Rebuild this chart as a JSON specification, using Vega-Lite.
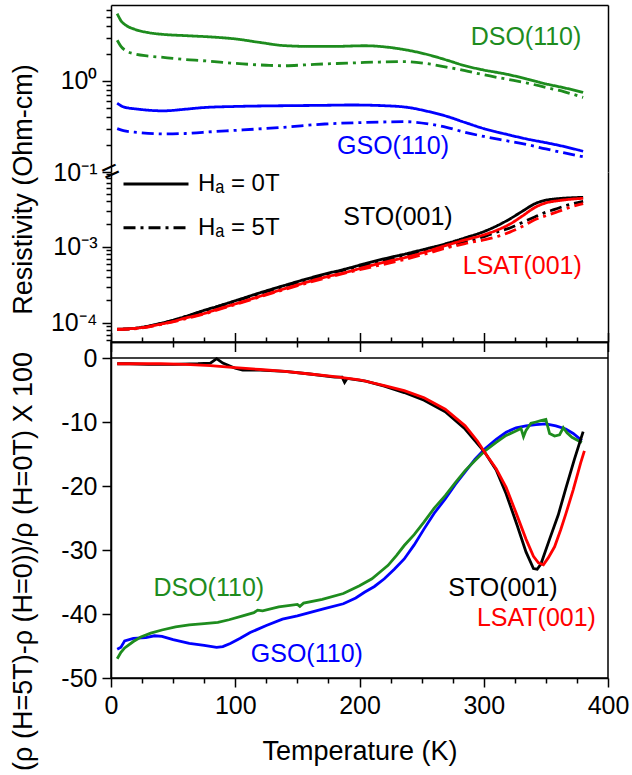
{
  "$schema": "https://vega.github.io/schema/vega-lite/v6.json",
  "padding": {"left": 8, "top": 5, "right": 0, "bottom": 0},
  "bounds": "flush",
  "spacing": 0,
  "config": {
    "font": "Liberation Sans",
    "view": {"stroke": null},
    "axis": {"grid": false, "domainColor": "#000", "domainWidth": 1.5, "tickColor": "#000", "tickWidth": 1.5, "labelColor": "#000", "titleColor": "#000", "labelFontSize": 25, "titleFontSize": 27, "titleFontWeight": "normal", "labelFlush": false, "labelOverlap": false, "labelBound": false}
  },
  "resolve": {
    "scale": {"x": "independent", "y": "independent", "color": "independent", "strokeDash": "independent"},
    "axis": {"x": "independent", "y": "independent"},
    "legend": {"color": "independent", "strokeDash": "independent"}
  },
  "datasets": {
    "rho": [
      {"s": "GSO(110)", "H": "0T", "T": 5, "rho": 0.57}, {"s": "GSO(110)", "H": "0T", "T": 10, "rho": 0.52}, {"s": "GSO(110)", "H": "0T", "T": 22, "rho": 0.49}, {"s": "GSO(110)", "H": "0T", "T": 42, "rho": 0.47}, {"s": "GSO(110)", "H": "0T", "T": 60, "rho": 0.49}, {"s": "GSO(110)", "H": "0T", "T": 74, "rho": 0.51}, {"s": "GSO(110)", "H": "0T", "T": 100, "rho": 0.525}, {"s": "GSO(110)", "H": "0T", "T": 139, "rho": 0.535}, {"s": "GSO(110)", "H": "0T", "T": 170, "rho": 0.54}, {"s": "GSO(110)", "H": "0T", "T": 194, "rho": 0.545}, {"s": "GSO(110)", "H": "0T", "T": 220, "rho": 0.535}, {"s": "GSO(110)", "H": "0T", "T": 240, "rho": 0.51}, {"s": "GSO(110)", "H": "0T", "T": 253, "rho": 0.47}, {"s": "GSO(110)", "H": "0T", "T": 270, "rho": 0.41}, {"s": "GSO(110)", "H": "0T", "T": 285, "rho": 0.35}, {"s": "GSO(110)", "H": "0T", "T": 300, "rho": 0.3}, {"s": "GSO(110)", "H": "0T", "T": 318, "rho": 0.26}, {"s": "GSO(110)", "H": "0T", "T": 335, "rho": 0.23}, {"s": "GSO(110)", "H": "0T", "T": 350, "rho": 0.21}, {"s": "GSO(110)", "H": "0T", "T": 365, "rho": 0.19}, {"s": "GSO(110)", "H": "0T", "T": 380, "rho": 0.169},
      {"s": "GSO(110)", "H": "5T", "T": 5, "rho": 0.3}, {"s": "GSO(110)", "H": "5T", "T": 10, "rho": 0.285}, {"s": "GSO(110)", "H": "5T", "T": 22, "rho": 0.272}, {"s": "GSO(110)", "H": "5T", "T": 42, "rho": 0.262}, {"s": "GSO(110)", "H": "5T", "T": 60, "rho": 0.265}, {"s": "GSO(110)", "H": "5T", "T": 74, "rho": 0.273}, {"s": "GSO(110)", "H": "5T", "T": 106, "rho": 0.29}, {"s": "GSO(110)", "H": "5T", "T": 139, "rho": 0.31}, {"s": "GSO(110)", "H": "5T", "T": 172, "rho": 0.337}, {"s": "GSO(110)", "H": "5T", "T": 204, "rho": 0.35}, {"s": "GSO(110)", "H": "5T", "T": 237, "rho": 0.357}, {"s": "GSO(110)", "H": "5T", "T": 256, "rho": 0.337}, {"s": "GSO(110)", "H": "5T", "T": 270, "rho": 0.31}, {"s": "GSO(110)", "H": "5T", "T": 285, "rho": 0.273}, {"s": "GSO(110)", "H": "5T", "T": 300, "rho": 0.246}, {"s": "GSO(110)", "H": "5T", "T": 318, "rho": 0.221}, {"s": "GSO(110)", "H": "5T", "T": 335, "rho": 0.2}, {"s": "GSO(110)", "H": "5T", "T": 350, "rho": 0.179}, {"s": "GSO(110)", "H": "5T", "T": 365, "rho": 0.162}, {"s": "GSO(110)", "H": "5T", "T": 380, "rho": 0.147},
      {"s": "DSO(110)", "H": "0T", "T": 5, "rho": 5.5}, {"s": "DSO(110)", "H": "0T", "T": 8, "rho": 4.6}, {"s": "DSO(110)", "H": "0T", "T": 12, "rho": 4.1}, {"s": "DSO(110)", "H": "0T", "T": 19, "rho": 3.7}, {"s": "DSO(110)", "H": "0T", "T": 30, "rho": 3.4}, {"s": "DSO(110)", "H": "0T", "T": 42, "rho": 3.25}, {"s": "DSO(110)", "H": "0T", "T": 60, "rho": 3.15}, {"s": "DSO(110)", "H": "0T", "T": 80, "rho": 3.05}, {"s": "DSO(110)", "H": "0T", "T": 100, "rho": 2.9}, {"s": "DSO(110)", "H": "0T", "T": 120, "rho": 2.65}, {"s": "DSO(110)", "H": "0T", "T": 139, "rho": 2.45}, {"s": "DSO(110)", "H": "0T", "T": 160, "rho": 2.4}, {"s": "DSO(110)", "H": "0T", "T": 180, "rho": 2.4}, {"s": "DSO(110)", "H": "0T", "T": 204, "rho": 2.44}, {"s": "DSO(110)", "H": "0T", "T": 224, "rho": 2.34}, {"s": "DSO(110)", "H": "0T", "T": 237, "rho": 2.2}, {"s": "DSO(110)", "H": "0T", "T": 253, "rho": 1.98}, {"s": "DSO(110)", "H": "0T", "T": 270, "rho": 1.7}, {"s": "DSO(110)", "H": "0T", "T": 285, "rho": 1.47}, {"s": "DSO(110)", "H": "0T", "T": 300, "rho": 1.32}, {"s": "DSO(110)", "H": "0T", "T": 318, "rho": 1.19}, {"s": "DSO(110)", "H": "0T", "T": 335, "rho": 1.05}, {"s": "DSO(110)", "H": "0T", "T": 350, "rho": 0.93}, {"s": "DSO(110)", "H": "0T", "T": 365, "rho": 0.84}, {"s": "DSO(110)", "H": "0T", "T": 380, "rho": 0.75},
      {"s": "DSO(110)", "H": "5T", "T": 5, "rho": 2.8}, {"s": "DSO(110)", "H": "5T", "T": 8, "rho": 2.4}, {"s": "DSO(110)", "H": "5T", "T": 12, "rho": 2.15}, {"s": "DSO(110)", "H": "5T", "T": 19, "rho": 1.98}, {"s": "DSO(110)", "H": "5T", "T": 30, "rho": 1.88}, {"s": "DSO(110)", "H": "5T", "T": 42, "rho": 1.82}, {"s": "DSO(110)", "H": "5T", "T": 60, "rho": 1.72}, {"s": "DSO(110)", "H": "5T", "T": 74, "rho": 1.67}, {"s": "DSO(110)", "H": "5T", "T": 90, "rho": 1.6}, {"s": "DSO(110)", "H": "5T", "T": 106, "rho": 1.54}, {"s": "DSO(110)", "H": "5T", "T": 125, "rho": 1.49}, {"s": "DSO(110)", "H": "5T", "T": 139, "rho": 1.47}, {"s": "DSO(110)", "H": "5T", "T": 155, "rho": 1.5}, {"s": "DSO(110)", "H": "5T", "T": 172, "rho": 1.54}, {"s": "DSO(110)", "H": "5T", "T": 190, "rho": 1.57}, {"s": "DSO(110)", "H": "5T", "T": 204, "rho": 1.6}, {"s": "DSO(110)", "H": "5T", "T": 220, "rho": 1.62}, {"s": "DSO(110)", "H": "5T", "T": 237, "rho": 1.63}, {"s": "DSO(110)", "H": "5T", "T": 256, "rho": 1.54}, {"s": "DSO(110)", "H": "5T", "T": 270, "rho": 1.42}, {"s": "DSO(110)", "H": "5T", "T": 285, "rho": 1.3}, {"s": "DSO(110)", "H": "5T", "T": 300, "rho": 1.17}, {"s": "DSO(110)", "H": "5T", "T": 318, "rho": 1.05}, {"s": "DSO(110)", "H": "5T", "T": 335, "rho": 0.95}, {"s": "DSO(110)", "H": "5T", "T": 350, "rho": 0.85}, {"s": "DSO(110)", "H": "5T", "T": 365, "rho": 0.76}, {"s": "DSO(110)", "H": "5T", "T": 380, "rho": 0.66},
      {"s": "STO(001)", "H": "0T", "T": 5, "rho": 0.000083}, {"s": "STO(001)", "H": "0T", "T": 15, "rho": 0.000084}, {"s": "STO(001)", "H": "0T", "T": 25, "rho": 0.000088}, {"s": "STO(001)", "H": "0T", "T": 35, "rho": 0.000095}, {"s": "STO(001)", "H": "0T", "T": 48, "rho": 0.000107}, {"s": "STO(001)", "H": "0T", "T": 60, "rho": 0.000122}, {"s": "STO(001)", "H": "0T", "T": 74, "rho": 0.000145}, {"s": "STO(001)", "H": "0T", "T": 87, "rho": 0.000168}, {"s": "STO(001)", "H": "0T", "T": 100, "rho": 0.000196}, {"s": "STO(001)", "H": "0T", "T": 120, "rho": 0.00025}, {"s": "STO(001)", "H": "0T", "T": 139, "rho": 0.00031}, {"s": "STO(001)", "H": "0T", "T": 155, "rho": 0.00037}, {"s": "STO(001)", "H": "0T", "T": 172, "rho": 0.00044}, {"s": "STO(001)", "H": "0T", "T": 188, "rho": 0.00051}, {"s": "STO(001)", "H": "0T", "T": 204, "rho": 0.0006}, {"s": "STO(001)", "H": "0T", "T": 220, "rho": 0.0007}, {"s": "STO(001)", "H": "0T", "T": 237, "rho": 0.00081}, {"s": "STO(001)", "H": "0T", "T": 253, "rho": 0.00094}, {"s": "STO(001)", "H": "0T", "T": 269, "rho": 0.0011}, {"s": "STO(001)", "H": "0T", "T": 285, "rho": 0.00132}, {"s": "STO(001)", "H": "0T", "T": 302, "rho": 0.00164}, {"s": "STO(001)", "H": "0T", "T": 312, "rho": 0.00195}, {"s": "STO(001)", "H": "0T", "T": 321, "rho": 0.00234}, {"s": "STO(001)", "H": "0T", "T": 331, "rho": 0.00295}, {"s": "STO(001)", "H": "0T", "T": 341, "rho": 0.0037}, {"s": "STO(001)", "H": "0T", "T": 349, "rho": 0.0041}, {"s": "STO(001)", "H": "0T", "T": 357, "rho": 0.00428}, {"s": "STO(001)", "H": "0T", "T": 368, "rho": 0.00442}, {"s": "STO(001)", "H": "0T", "T": 380, "rho": 0.0045},
      {"s": "STO(001)", "H": "5T", "T": 5, "rho": 0.000082}, {"s": "STO(001)", "H": "5T", "T": 25, "rho": 0.000087}, {"s": "STO(001)", "H": "5T", "T": 48, "rho": 0.000106}, {"s": "STO(001)", "H": "5T", "T": 74, "rho": 0.000143}, {"s": "STO(001)", "H": "5T", "T": 100, "rho": 0.000193}, {"s": "STO(001)", "H": "5T", "T": 139, "rho": 0.000303}, {"s": "STO(001)", "H": "5T", "T": 172, "rho": 0.000428}, {"s": "STO(001)", "H": "5T", "T": 204, "rho": 0.000578}, {"s": "STO(001)", "H": "5T", "T": 237, "rho": 0.000765}, {"s": "STO(001)", "H": "5T", "T": 253, "rho": 0.00088}, {"s": "STO(001)", "H": "5T", "T": 269, "rho": 0.001}, {"s": "STO(001)", "H": "5T", "T": 285, "rho": 0.00117}, {"s": "STO(001)", "H": "5T", "T": 302, "rho": 0.0014}, {"s": "STO(001)", "H": "5T", "T": 312, "rho": 0.0016}, {"s": "STO(001)", "H": "5T", "T": 321, "rho": 0.00178}, {"s": "STO(001)", "H": "5T", "T": 331, "rho": 0.0021}, {"s": "STO(001)", "H": "5T", "T": 341, "rho": 0.00248}, {"s": "STO(001)", "H": "5T", "T": 349, "rho": 0.00283}, {"s": "STO(001)", "H": "5T", "T": 357, "rho": 0.00312}, {"s": "STO(001)", "H": "5T", "T": 368, "rho": 0.00358}, {"s": "STO(001)", "H": "5T", "T": 380, "rho": 0.00398},
      {"s": "LSAT(001)", "H": "0T", "T": 5, "rho": 0.000083}, {"s": "LSAT(001)", "H": "0T", "T": 15, "rho": 0.000084}, {"s": "LSAT(001)", "H": "0T", "T": 25, "rho": 0.000087}, {"s": "LSAT(001)", "H": "0T", "T": 35, "rho": 0.000093}, {"s": "LSAT(001)", "H": "0T", "T": 48, "rho": 0.000103}, {"s": "LSAT(001)", "H": "0T", "T": 60, "rho": 0.000116}, {"s": "LSAT(001)", "H": "0T", "T": 74, "rho": 0.000132}, {"s": "LSAT(001)", "H": "0T", "T": 87, "rho": 0.000154}, {"s": "LSAT(001)", "H": "0T", "T": 100, "rho": 0.000178}, {"s": "LSAT(001)", "H": "0T", "T": 120, "rho": 0.000225}, {"s": "LSAT(001)", "H": "0T", "T": 139, "rho": 0.00028}, {"s": "LSAT(001)", "H": "0T", "T": 155, "rho": 0.000335}, {"s": "LSAT(001)", "H": "0T", "T": 172, "rho": 0.0004}, {"s": "LSAT(001)", "H": "0T", "T": 188, "rho": 0.00046}, {"s": "LSAT(001)", "H": "0T", "T": 204, "rho": 0.00054}, {"s": "LSAT(001)", "H": "0T", "T": 220, "rho": 0.00063}, {"s": "LSAT(001)", "H": "0T", "T": 237, "rho": 0.00073}, {"s": "LSAT(001)", "H": "0T", "T": 253, "rho": 0.00086}, {"s": "LSAT(001)", "H": "0T", "T": 269, "rho": 0.00104}, {"s": "LSAT(001)", "H": "0T", "T": 285, "rho": 0.00124}, {"s": "LSAT(001)", "H": "0T", "T": 302, "rho": 0.00148}, {"s": "LSAT(001)", "H": "0T", "T": 312, "rho": 0.0017}, {"s": "LSAT(001)", "H": "0T", "T": 321, "rho": 0.002}, {"s": "LSAT(001)", "H": "0T", "T": 331, "rho": 0.00255}, {"s": "LSAT(001)", "H": "0T", "T": 341, "rho": 0.0033}, {"s": "LSAT(001)", "H": "0T", "T": 350, "rho": 0.0038}, {"s": "LSAT(001)", "H": "0T", "T": 360, "rho": 0.00407}, {"s": "LSAT(001)", "H": "0T", "T": 370, "rho": 0.00425}, {"s": "LSAT(001)", "H": "0T", "T": 380, "rho": 0.00437},
      {"s": "LSAT(001)", "H": "5T", "T": 5, "rho": 0.000082}, {"s": "LSAT(001)", "H": "5T", "T": 25, "rho": 0.000086}, {"s": "LSAT(001)", "H": "5T", "T": 48, "rho": 0.000102}, {"s": "LSAT(001)", "H": "5T", "T": 74, "rho": 0.00013}, {"s": "LSAT(001)", "H": "5T", "T": 100, "rho": 0.000175}, {"s": "LSAT(001)", "H": "5T", "T": 139, "rho": 0.000274}, {"s": "LSAT(001)", "H": "5T", "T": 172, "rho": 0.000388}, {"s": "LSAT(001)", "H": "5T", "T": 204, "rho": 0.00052}, {"s": "LSAT(001)", "H": "5T", "T": 237, "rho": 0.00069}, {"s": "LSAT(001)", "H": "5T", "T": 253, "rho": 0.00081}, {"s": "LSAT(001)", "H": "5T", "T": 269, "rho": 0.00096}, {"s": "LSAT(001)", "H": "5T", "T": 285, "rho": 0.00111}, {"s": "LSAT(001)", "H": "5T", "T": 302, "rho": 0.00126}, {"s": "LSAT(001)", "H": "5T", "T": 312, "rho": 0.00139}, {"s": "LSAT(001)", "H": "5T", "T": 321, "rho": 0.00157}, {"s": "LSAT(001)", "H": "5T", "T": 331, "rho": 0.00186}, {"s": "LSAT(001)", "H": "5T", "T": 341, "rho": 0.00228}, {"s": "LSAT(001)", "H": "5T", "T": 350, "rho": 0.00258}, {"s": "LSAT(001)", "H": "5T", "T": 360, "rho": 0.00293}, {"s": "LSAT(001)", "H": "5T", "T": 370, "rho": 0.00336}, {"s": "LSAT(001)", "H": "5T", "T": 380, "rho": 0.00371}
    ],
    "mr": [
      {"s": "GSO(110)", "T": 5, "mr": -45.5}, {"s": "GSO(110)", "T": 8, "mr": -45.2}, {"s": "GSO(110)", "T": 11, "mr": -44.2}, {"s": "GSO(110)", "T": 18, "mr": -43.8}, {"s": "GSO(110)", "T": 28, "mr": -43.7}, {"s": "GSO(110)", "T": 35, "mr": -43.4}, {"s": "GSO(110)", "T": 41, "mr": -43.5}, {"s": "GSO(110)", "T": 50, "mr": -44.0}, {"s": "GSO(110)", "T": 63, "mr": -44.6}, {"s": "GSO(110)", "T": 75, "mr": -44.9}, {"s": "GSO(110)", "T": 85, "mr": -45.2}, {"s": "GSO(110)", "T": 90, "mr": -45.1}, {"s": "GSO(110)", "T": 96, "mr": -44.6}, {"s": "GSO(110)", "T": 104, "mr": -43.8}, {"s": "GSO(110)", "T": 112, "mr": -42.9}, {"s": "GSO(110)", "T": 125, "mr": -41.8}, {"s": "GSO(110)", "T": 138, "mr": -40.8}, {"s": "GSO(110)", "T": 150, "mr": -40.3}, {"s": "GSO(110)", "T": 171, "mr": -39.2}, {"s": "GSO(110)", "T": 187, "mr": -38.4}, {"s": "GSO(110)", "T": 197, "mr": -37.5}, {"s": "GSO(110)", "T": 204, "mr": -36.6}, {"s": "GSO(110)", "T": 212, "mr": -35.7}, {"s": "GSO(110)", "T": 220, "mr": -34.5}, {"s": "GSO(110)", "T": 228, "mr": -33.0}, {"s": "GSO(110)", "T": 236, "mr": -31.4}, {"s": "GSO(110)", "T": 244, "mr": -29.2}, {"s": "GSO(110)", "T": 252, "mr": -26.7}, {"s": "GSO(110)", "T": 260, "mr": -24.3}, {"s": "GSO(110)", "T": 269, "mr": -22.0}, {"s": "GSO(110)", "T": 277, "mr": -19.8}, {"s": "GSO(110)", "T": 285, "mr": -17.8}, {"s": "GSO(110)", "T": 293, "mr": -15.8}, {"s": "GSO(110)", "T": 301, "mr": -14.2}, {"s": "GSO(110)", "T": 310, "mr": -12.7}, {"s": "GSO(110)", "T": 318, "mr": -11.6}, {"s": "GSO(110)", "T": 326, "mr": -10.9}, {"s": "GSO(110)", "T": 334, "mr": -10.6}, {"s": "GSO(110)", "T": 342, "mr": -10.4}, {"s": "GSO(110)", "T": 350, "mr": -10.3}, {"s": "GSO(110)", "T": 358, "mr": -10.6}, {"s": "GSO(110)", "T": 366, "mr": -11.1}, {"s": "GSO(110)", "T": 372, "mr": -11.8}, {"s": "GSO(110)", "T": 379, "mr": -12.9},
      {"s": "DSO(110)", "T": 5, "mr": -47.0}, {"s": "DSO(110)", "T": 8, "mr": -46.0}, {"s": "DSO(110)", "T": 11, "mr": -45.3}, {"s": "DSO(110)", "T": 18, "mr": -44.3}, {"s": "DSO(110)", "T": 24, "mr": -43.6}, {"s": "DSO(110)", "T": 32, "mr": -43.0}, {"s": "DSO(110)", "T": 41, "mr": -42.5}, {"s": "DSO(110)", "T": 52, "mr": -42.0}, {"s": "DSO(110)", "T": 63, "mr": -41.7}, {"s": "DSO(110)", "T": 75, "mr": -41.5}, {"s": "DSO(110)", "T": 86, "mr": -41.3}, {"s": "DSO(110)", "T": 95, "mr": -40.9}, {"s": "DSO(110)", "T": 106, "mr": -40.3}, {"s": "DSO(110)", "T": 115, "mr": -39.8}, {"s": "DSO(110)", "T": 118, "mr": -39.4}, {"s": "DSO(110)", "T": 122, "mr": -39.5}, {"s": "DSO(110)", "T": 135, "mr": -38.9}, {"s": "DSO(110)", "T": 150, "mr": -38.5}, {"s": "DSO(110)", "T": 152, "mr": -38.8}, {"s": "DSO(110)", "T": 155, "mr": -38.3}, {"s": "DSO(110)", "T": 170, "mr": -37.7}, {"s": "DSO(110)", "T": 187, "mr": -36.8}, {"s": "DSO(110)", "T": 200, "mr": -35.6}, {"s": "DSO(110)", "T": 210, "mr": -34.5}, {"s": "DSO(110)", "T": 218, "mr": -33.2}, {"s": "DSO(110)", "T": 223, "mr": -32.4}, {"s": "DSO(110)", "T": 230, "mr": -30.8}, {"s": "DSO(110)", "T": 236, "mr": -29.3}, {"s": "DSO(110)", "T": 244, "mr": -27.6}, {"s": "DSO(110)", "T": 252, "mr": -25.6}, {"s": "DSO(110)", "T": 260, "mr": -23.5}, {"s": "DSO(110)", "T": 269, "mr": -21.5}, {"s": "DSO(110)", "T": 277, "mr": -19.5}, {"s": "DSO(110)", "T": 285, "mr": -17.6}, {"s": "DSO(110)", "T": 293, "mr": -16.0}, {"s": "DSO(110)", "T": 301, "mr": -14.5}, {"s": "DSO(110)", "T": 310, "mr": -13.2}, {"s": "DSO(110)", "T": 318, "mr": -12.1}, {"s": "DSO(110)", "T": 325, "mr": -11.5}, {"s": "DSO(110)", "T": 330, "mr": -11.0}, {"s": "DSO(110)", "T": 332, "mr": -12.3}, {"s": "DSO(110)", "T": 334, "mr": -11.3}, {"s": "DSO(110)", "T": 338, "mr": -10.2}, {"s": "DSO(110)", "T": 342, "mr": -10.0}, {"s": "DSO(110)", "T": 346, "mr": -9.8}, {"s": "DSO(110)", "T": 350, "mr": -9.6}, {"s": "DSO(110)", "T": 353, "mr": -11.8}, {"s": "DSO(110)", "T": 357, "mr": -12.2}, {"s": "DSO(110)", "T": 361, "mr": -12.0}, {"s": "DSO(110)", "T": 364, "mr": -10.9}, {"s": "DSO(110)", "T": 367, "mr": -11.7}, {"s": "DSO(110)", "T": 371, "mr": -12.4}, {"s": "DSO(110)", "T": 375, "mr": -12.8}, {"s": "DSO(110)", "T": 379, "mr": -13.2},
      {"s": "STO(001)", "T": 5, "mr": -0.9}, {"s": "STO(001)", "T": 15, "mr": -0.9}, {"s": "STO(001)", "T": 30, "mr": -1.0}, {"s": "STO(001)", "T": 50, "mr": -1.0}, {"s": "STO(001)", "T": 70, "mr": -0.9}, {"s": "STO(001)", "T": 80, "mr": -0.8}, {"s": "STO(001)", "T": 85, "mr": -0.1}, {"s": "STO(001)", "T": 90, "mr": -0.8}, {"s": "STO(001)", "T": 100, "mr": -1.6}, {"s": "STO(001)", "T": 106, "mr": -1.9}, {"s": "STO(001)", "T": 120, "mr": -1.9}, {"s": "STO(001)", "T": 140, "mr": -2.1}, {"s": "STO(001)", "T": 160, "mr": -2.5}, {"s": "STO(001)", "T": 180, "mr": -3.0}, {"s": "STO(001)", "T": 186, "mr": -3.0}, {"s": "STO(001)", "T": 188, "mr": -3.8}, {"s": "STO(001)", "T": 190, "mr": -3.2}, {"s": "STO(001)", "T": 205, "mr": -3.6}, {"s": "STO(001)", "T": 220, "mr": -4.4}, {"s": "STO(001)", "T": 236, "mr": -5.4}, {"s": "STO(001)", "T": 252, "mr": -6.6}, {"s": "STO(001)", "T": 269, "mr": -8.4}, {"s": "STO(001)", "T": 285, "mr": -11.1}, {"s": "STO(001)", "T": 301, "mr": -14.8}, {"s": "STO(001)", "T": 310, "mr": -17.5}, {"s": "STO(001)", "T": 318, "mr": -21.2}, {"s": "STO(001)", "T": 327, "mr": -26.2}, {"s": "STO(001)", "T": 334, "mr": -30.3}, {"s": "STO(001)", "T": 340, "mr": -32.9}, {"s": "STO(001)", "T": 343, "mr": -33.0}, {"s": "STO(001)", "T": 346, "mr": -32.2}, {"s": "STO(001)", "T": 353, "mr": -28.3}, {"s": "STO(001)", "T": 360, "mr": -24.5}, {"s": "STO(001)", "T": 366, "mr": -20.4}, {"s": "STO(001)", "T": 373, "mr": -15.8}, {"s": "STO(001)", "T": 380, "mr": -11.5},
      {"s": "LSAT(001)", "T": 5, "mr": -0.9}, {"s": "LSAT(001)", "T": 20, "mr": -0.9}, {"s": "LSAT(001)", "T": 40, "mr": -0.9}, {"s": "LSAT(001)", "T": 60, "mr": -1.0}, {"s": "LSAT(001)", "T": 80, "mr": -1.2}, {"s": "LSAT(001)", "T": 100, "mr": -1.5}, {"s": "LSAT(001)", "T": 120, "mr": -1.8}, {"s": "LSAT(001)", "T": 140, "mr": -2.1}, {"s": "LSAT(001)", "T": 160, "mr": -2.5}, {"s": "LSAT(001)", "T": 180, "mr": -2.9}, {"s": "LSAT(001)", "T": 200, "mr": -3.4}, {"s": "LSAT(001)", "T": 220, "mr": -4.3}, {"s": "LSAT(001)", "T": 236, "mr": -5.1}, {"s": "LSAT(001)", "T": 252, "mr": -6.2}, {"s": "LSAT(001)", "T": 269, "mr": -8.0}, {"s": "LSAT(001)", "T": 285, "mr": -10.6}, {"s": "LSAT(001)", "T": 295, "mr": -13.0}, {"s": "LSAT(001)", "T": 301, "mr": -14.8}, {"s": "LSAT(001)", "T": 310, "mr": -17.3}, {"s": "LSAT(001)", "T": 318, "mr": -20.2}, {"s": "LSAT(001)", "T": 326, "mr": -24.2}, {"s": "LSAT(001)", "T": 334, "mr": -28.3}, {"s": "LSAT(001)", "T": 340, "mr": -31.0}, {"s": "LSAT(001)", "T": 344, "mr": -32.0}, {"s": "LSAT(001)", "T": 348, "mr": -32.3}, {"s": "LSAT(001)", "T": 352, "mr": -31.2}, {"s": "LSAT(001)", "T": 357, "mr": -29.5}, {"s": "LSAT(001)", "T": 362, "mr": -26.8}, {"s": "LSAT(001)", "T": 366, "mr": -24.4}, {"s": "LSAT(001)", "T": 372, "mr": -20.6}, {"s": "LSAT(001)", "T": 378, "mr": -16.4}, {"s": "LSAT(001)", "T": 381, "mr": -14.5}
    ]
  },
  "vconcat": [
    {
      "width": 497, "height": 167,
      "resolve": {"axis": {"y": "independent"}},
      "layer": [
        {
          "data": {"name": "rho"},
          "transform": [{"filter": "datum.s == 'DSO(110)' || datum.s == 'GSO(110)'"}],
          "mark": {"type": "line", "interpolate": "monotone", "strokeWidth": 2.8},
          "encoding": {
            "x": {"field": "T", "type": "quantitative", "scale": {"domain": [0, 400], "nice": false, "zero": false}, "axis": {"orient": "top", "ticks": false, "labels": false, "title": null}},
            "y": {"field": "rho", "type": "quantitative", "scale": {"type": "log", "domain": [0.1, 6.84], "nice": false},
                  "axis": {"orient": "left", "title": null, "values": [0.1, 0.2, 0.3, 0.4, 0.5, 0.6, 0.7, 0.8, 0.9, 1, 2, 3, 4, 5, 6],
                           "labelExpr": "datum.value == 1 ? '10⁰' : (datum.value == 0.1 ? '10⁻¹' : '')",
                           "labelFontSize": {"condition": {"test": "datum.value == 1 || datum.value == 0.1", "value": 25}, "value": 0},
                           "tickSize": {"condition": {"test": "datum.value == 1 || datum.value == 0.1", "value": 9}, "value": 5},
                           "labelPadding": 5}},
            "color": {"field": "s", "type": "nominal", "scale": {"domain": ["DSO(110)", "GSO(110)", "STO(001)", "LSAT(001)"], "range": ["#1e8c1e", "#0000ff", "#000000", "#ff0000"]}, "legend": null},
            "strokeDash": {"field": "H", "type": "nominal", "scale": {"domain": ["0T", "5T"], "range": [[1, 0], [12, 5, 3, 5]]}, "legend": null}
          }
        },
        {
          "data": {"values": [{}]},
          "mark": {"type": "text", "text": "DSO(110)", "fontSize": 25, "color": "#1e8c1e"},
          "encoding": {
            "x": {"datum": 334, "scale": {"domain": [0, 400], "nice": false, "zero": false}},
            "y": {"datum": 3.07, "scale": {"type": "log", "domain": [0.1, 6.84], "nice": false}, "axis": {"orient": "right", "ticks": false, "labels": false, "title": null}}
          }
        },
        {
          "data": {"values": [{}]},
          "mark": {"type": "text", "text": "GSO(110)", "fontSize": 25, "color": "#0000ff"},
          "encoding": {
            "x": {"datum": 227},
            "y": {"datum": 0.195, "axis": null}
          }
        },
        {
          "data": {"values": [{}]},
          "mark": {"type": "text", "text": "=", "fontSize": 30, "angle": -25, "color": "#000"},
          "encoding": {
            "x": {"datum": 0},
            "y": {"datum": 0.1, "axis": null}
          }
        }
      ]
    },
    {
      "width": 497, "height": 170,
      "resolve": {"axis": {"y": "independent"}},
      "layer": [
        {
          "data": {"name": "rho"},
          "transform": [{"filter": "datum.s == 'STO(001)' || datum.s == 'LSAT(001)'"}],
          "mark": {"type": "line", "interpolate": "monotone", "strokeWidth": 2.8},
          "encoding": {
            "x": {"field": "T", "type": "quantitative", "scale": {"domain": [0, 400], "nice": false, "zero": false},
                  "axis": {"orient": "bottom", "labels": false, "title": null, "values": [0, 25, 50, 75, 100, 125, 150, 175, 200, 225, 250, 275, 300, 325, 350, 375, 400],
                           "tickSize": {"condition": {"test": "datum.value % 100 == 0", "value": 9.5}, "value": 5}}},
            "y": {"field": "rho", "type": "quantitative", "scale": {"type": "log", "domain": [0.0000562, 0.0097], "nice": false},
                  "axis": {"orient": "left", "title": "Resistivity (Ohm-cm)", "titleX": -74, "titleY": 17,
                           "values": [0.00006, 0.00007, 0.00008, 0.00009, 0.0001, 0.0002, 0.0003, 0.0004, 0.0005, 0.0006, 0.0007, 0.0008, 0.0009, 0.001, 0.002, 0.003, 0.004, 0.005, 0.006, 0.007, 0.008, 0.009],
                           "labelExpr": "datum.value == 0.001 ? '10⁻³' : (datum.value == 0.0001 ? '10⁻⁴' : '')",
                           "labelFontSize": {"condition": {"test": "datum.value == 0.001 || datum.value == 0.0001", "value": 25}, "value": 0},
                           "tickSize": {"condition": {"test": "datum.value == 0.001 || datum.value == 0.0001", "value": 9}, "value": 5},
                           "labelPadding": 5}},
            "color": {"field": "s", "type": "nominal", "scale": {"domain": ["DSO(110)", "GSO(110)", "STO(001)", "LSAT(001)"], "range": ["#1e8c1e", "#0000ff", "#000000", "#ff0000"]}, "legend": null},
            "strokeDash": {"field": "H", "type": "nominal", "scale": {"domain": ["0T", "5T"], "range": [[1, 0], [12, 5, 3, 5]]},
                           "legend": {"orient": "none", "legendX": 11, "legendY": 1, "title": null, "symbolType": "stroke", "symbolSize": 4225, "symbolStrokeWidth": 3, "symbolStrokeColor": "#000", "labelFontSize": 24, "labelColor": "#000", "labelOffset": 8, "clipHeight": 22, "rowPadding": 19.7, "padding": 0, "labelExpr": "'Hₐ = ' + datum.label"}}
          }
        },
        {
          "data": {"values": [{}]},
          "mark": {"type": "text", "text": "STO(001)", "fontSize": 25, "color": "#000"},
          "encoding": {
            "x": {"datum": 231},
            "y": {"datum": 0.00246, "scale": {"type": "log", "domain": [0.0000562, 0.0097], "nice": false}, "axis": {"orient": "right", "ticks": false, "labels": false, "title": null}}
          }
        },
        {
          "data": {"values": [{}]},
          "mark": {"type": "text", "text": "LSAT(001)", "fontSize": 25, "color": "#ff0000"},
          "encoding": {
            "x": {"datum": 331},
            "y": {"datum": 0.000567, "axis": null}
          }
        }
      ]
    },
    {
      "width": 497, "height": 336,
      "view": {"stroke": "#000", "strokeWidth": 1.5},
      "resolve": {"axis": {"x": "independent"}},
      "layer": [
        {
          "data": {"name": "mr"},
          "mark": {"type": "line", "interpolate": "linear", "strokeWidth": 2.8},
          "encoding": {
            "x": {"field": "T", "type": "quantitative", "scale": {"domain": [0, 400], "nice": false, "zero": false},
                  "axis": {"orient": "bottom", "title": "Temperature (K)", "titlePadding": 20, "labelPadding": 6,
                           "values": [0, 25, 50, 75, 100, 125, 150, 175, 200, 225, 250, 275, 300, 325, 350, 375, 400],
                           "labelExpr": "datum.value % 100 == 0 ? '' + datum.value : ''",
                           "labelFontSize": {"condition": {"test": "datum.value % 100 == 0", "value": 25}, "value": 0},
                           "tickSize": {"condition": {"test": "datum.value % 100 == 0", "value": 9}, "value": 5}}},
            "y": {"field": "mr", "type": "quantitative", "scale": {"domain": [-50, 2.5], "nice": false, "zero": false},
                  "axis": {"orient": "left", "title": "(ρ (H=5T)-ρ (H=0))/ρ (H=0T) X 100", "titleX": -74, "titleY": 219,
                           "values": [-50, -45, -40, -35, -30, -25, -20, -15, -10, -5, 0],
                           "labelExpr": "datum.value % 10 == 0 ? '' + datum.value : ''",
                           "labelFontSize": {"condition": {"test": "datum.value % 10 == 0", "value": 25}, "value": 0},
                           "tickSize": {"condition": {"test": "datum.value % 10 == 0", "value": 9}, "value": 5},
                           "labelPadding": 5}},
            "color": {"field": "s", "type": "nominal", "scale": {"domain": ["DSO(110)", "GSO(110)", "STO(001)", "LSAT(001)"], "range": ["#1e8c1e", "#0000ff", "#000000", "#ff0000"]}, "legend": null}
          }
        },
        {
          "data": {"values": [{}]},
          "mark": {"type": "rule", "color": "#000", "strokeWidth": 1.5},
          "encoding": {"y": {"datum": 0}}
        },
        {
          "data": {"values": [{}]},
          "mark": {"type": "text", "text": "DSO(110)", "fontSize": 25, "color": "#1e8c1e"},
          "encoding": {
            "x": {"datum": 78.7, "axis": {"orient": "top", "labels": false, "title": null, "values": [0, 25, 50, 75, 100, 125, 150, 175, 200, 225, 250, 275, 300, 325, 350, 375, 400],
                           "tickSize": {"condition": {"test": "datum.value % 100 == 0", "value": 9.5}, "value": 5}}},
            "y": {"datum": -35.9}
          }
        },
        {
          "data": {"values": [{}]},
          "mark": {"type": "text", "text": "GSO(110)", "fontSize": 25, "color": "#0000ff"},
          "encoding": {"x": {"datum": 157.6, "axis": null}, "y": {"datum": -46.2}}
        },
        {
          "data": {"values": [{}]},
          "mark": {"type": "text", "text": "STO(001)", "fontSize": 25, "color": "#000"},
          "encoding": {"x": {"datum": 315.5, "axis": null}, "y": {"datum": -36}}
        },
        {
          "data": {"values": [{}]},
          "mark": {"type": "text", "text": "LSAT(001)", "fontSize": 25, "color": "#ff0000"},
          "encoding": {"x": {"datum": 342.4, "axis": null}, "y": {"datum": -40.7}}
        }
      ]
    }
  ]
}
